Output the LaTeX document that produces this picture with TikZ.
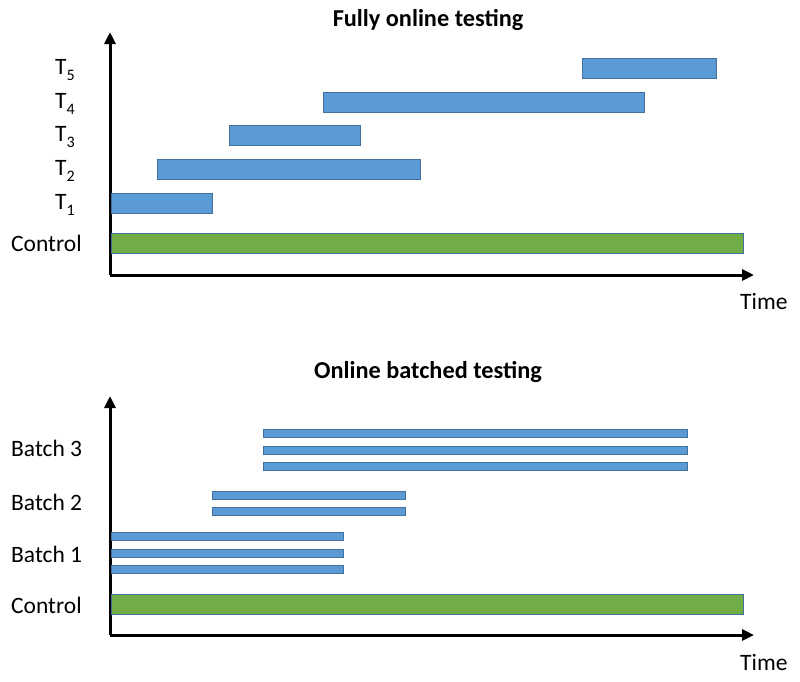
\documentclass[tikz,border=0pt]{standalone}
\usepackage{fontspec}
\setmainfont{Carlito}
\usetikzlibrary{arrows.meta}
\definecolor{barblue}{HTML}{5B9BD5}
\definecolor{barline}{HTML}{41719C}
\definecolor{ctrlgreen}{HTML}{70AD47}
\newcommand{\tsub}[1]{\raisebox{-0.28em}{\fontsize{16}{18}\selectfont #1}}
\tikzset{
  tbar/.style={draw=barline, fill=barblue, line width=0.9pt, inner sep=0pt, outer sep=0pt, anchor=west, minimum height=20},
  thinbar/.style={draw=barline, fill=barblue, line width=0.9pt, inner sep=0pt, outer sep=0pt, anchor=west, minimum height=8},
  ctrlbar/.style={draw=barline, fill=ctrlgreen, line width=0.9pt, inner sep=0pt, outer sep=0pt, anchor=west, minimum height=20, minimum width=632},
  axisline/.style={line width=3pt, -{Triangle[length=12pt,width=11pt]}},
  lbl/.style={font=\fontsize{23.5}{28}\selectfont, inner sep=0pt, anchor=west},
  ttl/.style={font=\fontsize{24.3}{28}\selectfont\bfseries, inner sep=0pt},
}
\begin{document}
\begin{tikzpicture}[x=1pt,y=-1pt]
\useasboundingbox (0,0) rectangle (800,681);
% ---------- top chart ----------
\node[ttl] (title1) at (428,20) {Fully online testing};
\coordinate (o1) at (110,275);
\coordinate (ytip1) at (110,32);
\coordinate (xtip1) at (754,275);
\draw[axisline] (o1) -- (ytip1);
\draw[axisline] (o1) -- (xtip1);
\node[lbl] (time1) at (740,301) {Time};

\node[tbar, minimum width=134] (t5) at (582,68) {};
\node[tbar, minimum width=321] (t4) at (323,102) {};
\node[tbar, minimum width=131] (t3) at (229,135) {};
\node[tbar, minimum width=263] (t2) at (157,169) {};
\node[tbar, minimum width=101] (t1) at (111,203) {};
\node[ctrlbar] (c1) at (111,243) {};

\node[lbl] (lt5) at (55,70) {T\tsub{5}};
\node[lbl] (lt4) at (55,104) {T\tsub{4}};
\node[lbl] (lt3) at (55,137) {T\tsub{3}};
\node[lbl] (lt2) at (55,171) {T\tsub{2}};
\node[lbl] (lt1) at (55,205) {T\tsub{1}};
\node[lbl] (lc1) at (11,243) {Control};

% ---------- bottom chart ----------
\node[ttl] (title2) at (428,372) {Online batched testing};
\coordinate (o2) at (110,635);
\coordinate (ytip2) at (110,396);
\coordinate (xtip2) at (754,635);
\draw[axisline] (o2) -- (ytip2);
\draw[axisline] (o2) -- (xtip2);
\node[lbl] (time2) at (740,662) {Time};

\node[thinbar, minimum width=424] (b3a) at (263,433) {};
\node[thinbar, minimum width=424] (b3b) at (263,450) {};
\node[thinbar, minimum width=424] (b3c) at (263,466) {};
\node[thinbar, minimum width=193] (b2a) at (212,495) {};
\node[thinbar, minimum width=193] (b2b) at (212,511) {};
\node[thinbar, minimum width=232] (b1a) at (111,536) {};
\node[thinbar, minimum width=232] (b1b) at (111,553) {};
\node[thinbar, minimum width=232] (b1c) at (111,569) {};
\node[ctrlbar] (c2) at (111,604) {};

\node[lbl] (lb3) at (11,448) {Batch 3};
\node[lbl] (lb2) at (11,502) {Batch 2};
\node[lbl] (lb1) at (11,554) {Batch 1};
\node[lbl] (lc2) at (11,605) {Control};
\end{tikzpicture}
\end{document}
